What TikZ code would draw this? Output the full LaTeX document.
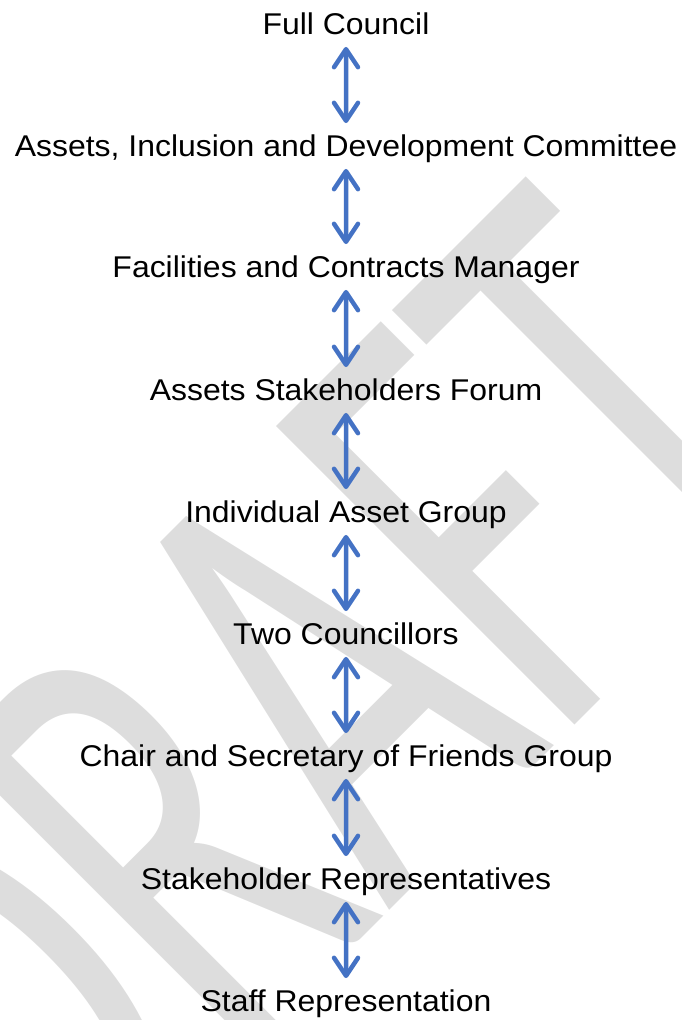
\documentclass[tikz,border=0pt]{standalone}
\usepackage{fontspec}
\setmainfont{Liberation Sans}
\newfontfamily\draftfont{Carlito}
\usepackage{xcolor}
\usetikzlibrary{arrows.meta}
\definecolor{arrowblue}{HTML}{4472C4}
\definecolor{draftgray}{HTML}{DDDDDD}

\begin{document}
\begin{tikzpicture}[x=1pt, y=-1pt,
    level/.style={inner sep=0pt, text height=21.5pt, text depth=0pt, xscale=1.065,
        font=\fontsize{30}{36}\selectfont},
    link/.style={arrowblue, line width=4.5pt,
        {Straight Barb[round,length=18pt,width=24pt]}-{Straight Barb[round,length=18pt,width=24pt]},
        shorten <=12pt, shorten >=12pt},
    draftmark/.style={inner sep=0pt, text=draftgray,
        font=\draftfont\fontsize{658}{658}\selectfont}]
    \useasboundingbox (0,0) rectangle (681,1020);
    \clip (0,0) rectangle (681,1020);
    % watermark
    \node[draftmark, anchor=base west, rotate=45, xscale=0.62] (draft) at (54,1246) {DRAFT};
    % levels
    \node[level] (full) at (346,24) {Full Council};
    \node[level] (aid) at (346,146) {Assets, Inclusion and Development Committee};
    \node[level] (fcm) at (346,267) {Facilities and Contracts Manager};
    \node[level] (asf) at (346,390) {Assets Stakeholders Forum};
    \node[level] (iag) at (346,512) {Individual Asset Group};
    \node[level] (two) at (346,634) {Two Councillors};
    \node[level] (csf) at (346,756) {Chair and Secretary of Friends Group};
    \node[level] (shr) at (346,879) {Stakeholder Representatives};
    \node[level] (staff) at (346,1001) {Staff Representation};
    \draw[link] (full) -- (aid);
    \draw[link] (aid) -- (fcm);
    \draw[link] (fcm) -- (asf);
    \draw[link] (asf) -- (iag);
    \draw[link] (iag) -- (two);
    \draw[link] (two) -- (csf);
    \draw[link] (csf) -- (shr);
    \draw[link] (shr) -- (staff);
\end{tikzpicture}
\end{document}
